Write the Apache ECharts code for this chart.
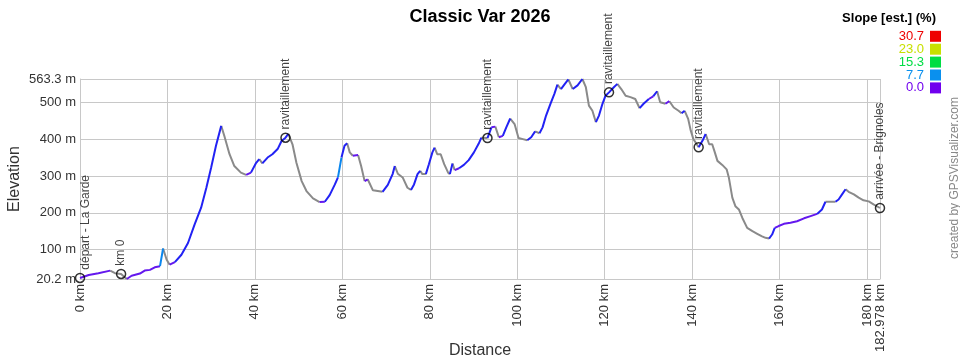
<!DOCTYPE html>
<html>
<head>
<meta charset="utf-8">
<script src="https://cdn.jsdelivr.net/npm/echarts@6/dist/echarts.min.js"></script>
<style>
html,body{margin:0;padding:0;background:#fff;}
#chart{width:960px;height:360px;}
</style>
</head>
<body>
<div id="chart"></div>
<script>
// ---- data ----
const distanceKm = [0,2,4.2,6.9,8,9.4,10.7,11.8,13.7,14.8,16,17.1,18.3,19.0,19.8,20.5,21.7,23.2,24.7,26.2,27.7,28.9,30,31.1,32.3,33,34.2,35.3,36.8,38,39.1,40.2,41,41.7,42.9,44,45.2,46.1,47.0,47.65,48.6,49.5,50.7,51.8,53.3,54.8,56,57.1,58.3,59,59.8,60.5,61.1,61.7,62.4,63.6,64.3,65.1,65.8,67,68.1,69.2,70.4,71.5,72,72.7,73.8,74.9,75.7,76.4,77.2,77.8,78.3,79.1,79.8,80.6,81.1,81.7,82.5,83.3,84.2,84.6,85.2,85.7,86.7,87.8,88.9,90.1,91.2,91.8,93.2,94.1,95,95.8,96.7,97.5,98.4,99.4,100.3,101.3,102.3,103.2,104.1,105.1,105.8,106.6,107.6,108.5,109.2,110,110.9,111.7,112.7,113.8,114.9,115.7,116.4,117.2,118,118.7,119.5,120.2,121.0,122.1,122.9,123.8,124.8,125.9,127,128,128.9,130.1,131.1,132,132.7,133.9,134.8,135.8,136.9,137.6,138.3,139.1,139.7,140.3,140.8,141.5,142.4,143.1,143.9,144.6,145.2,145.8,146.9,147.9,148.4,149.2,149.9,150.7,151.5,152.6,153.8,154.9,156,156.8,157.6,158.3,158.9,159.8,161,162.5,164,165.6,167.1,168.6,169.7,170.5,171.6,172.8,173.5,174.3,175.1,175.8,177,178.1,179.2,180.4,181.5,182.978];
const elevationM = [23,31,36,43,36,34,20.2,29,35,43,45,52,55,103,73,59,66,86,118,168,214,268,323,382,436,409,359,327,309,303,309,334,346,334,350,359,373,395,404,414,386,336,286,259,239,229,230,248,277,296,350,382,389,364,355,357,327,286,291,261,259,257,276,305,327,306,296,268,262,277,305,314,305,305,332,364,377,359,359,332,309,305,334,316,321,330,343,364,388,404,403,432,434,405,409,432,456,441,403,400,397,405,421,416,432,464,496,523,548,536,550,562,536,546,563.3,541,491,477,446,464,496,518,527,541,550,536,518,514,509,484,496,509,516,530,500,496,503,486,477,470,477,455,423,400,391,378,396,414,386,386,364,341,330,318,296,241,218,209,186,159,150,143,136,132,130,141,159,164,170,173,177,185,191,197,209,230,230,230,236,250,264,257,250,241,234,231,223,213];

const markerKm = [0, 9.4, 47.0, 93.2, 121.0, 141.5, 182.978];
const markerElev = [23, 34, 404, 403, 527, 378, 213];
const markerLabels = ['départ - La Garde','km 0','ravitaillement','ravitaillement','ravitaillement','ravitaillement','arrivée - Brignoles'];

const slopeLegendValues = ['30.7','23.0','15.3','7.7','0.0'];
const chartTitle = 'Classic Var 2026';

// ---- styling ----
const FONT = '"Liberation Sans", Arial, sans-serif';
const legendColors = ['#ee0000','#c8e000','#00dd44','#0a90ee','#7000ee'];
// slope classes (upper bound in %, colour)
const slopeClasses = [
  {max: 0,   color: '#8a8a8a'},
  {max: 0.8, color: '#6418ee'},
  {max: 6,   color: '#2222f4'},
  {max: 10,  color: '#0a86ee'},
  {max: 13,  color: '#00c4dc'},
  {max: 19,  color: '#00dd44'},
  {max: 27,  color: '#c8e000'},
  {max: Infinity, color: '#ee0000'}
];

function classOf(slope){
  for (let i=0;i<slopeClasses.length;i++) if (slope <= slopeClasses[i].max) return i;
  return slopeClasses.length-1;
}

// build per-class line data with breaks
const classData = slopeClasses.map(()=>[]);
const lastIdx = slopeClasses.map(()=>-2);
for (let i=0;i<distanceKm.length-1;i++){
  const dx = (distanceKm[i+1]-distanceKm[i])*1000;
  const slope = (elevationM[i+1]-elevationM[i])/dx*100;
  const c = classOf(slope);
  const arr = classData[c];
  if (lastIdx[c] !== i){
    if (arr.length) arr.push([distanceKm[i],'-']);
    arr.push([distanceKm[i], elevationM[i]]);
  }
  arr.push([distanceKm[i+1], elevationM[i+1]]);
  lastIdx[c] = i+1;
}

const lineSeries = slopeClasses.map((cls, k)=>({
  type:'line',
  data: classData[k],
  showSymbol:false,
  symbol:'none',
  connectNulls:false,
  lineStyle:{color: cls.color, width:2},
  silent:true,
  animation:false,
  z: 2 + k*0.01
}));

const markerData = markerKm.map((km,i)=>{
  const item = {value:[km, markerElev[i]], name: markerLabels[i]};
  if (i===0) item.label = {offset:[0,6]};
  return item;
});

const chart = echarts.init(document.getElementById('chart'), null, {renderer:'canvas'});

const graphics = [
  {type:'text', right: 24, top: 12, style:{text:'Slope [est.] (%)', font:'bold 13px '+FONT, fill:'#000'}}
];
slopeLegendValues.forEach((v,i)=>{
  const cy = 36.3 + i*12.9;
  graphics.push({type:'text', x: 924, y: cy, style:{text:v, font:'13px '+FONT, fill: legendColors[i], align:'right', verticalAlign:'middle'}});
  graphics.push({type:'rect', shape:{x:930, y:cy-5.5, width:11, height:11}, style:{fill: legendColors[i]}});
});
graphics.push({type:'text', x: 955, y: 178, rotation: Math.PI/2,
  style:{text:'created by GPSVisualizer.com', font:'12px '+FONT, fill:'#888', align:'center', verticalAlign:'middle'}});

chart.setOption({
  animation:false,
  backgroundColor:'#fff',
  title:{text: chartTitle, left:'center', top:3, textStyle:{fontFamily:FONT, fontSize:18, fontWeight:'bold', color:'#000'}},
  grid:{left:80, right:80, top:79, bottom:81, containLabel:false, outerBoundsMode:'none'},
  xAxis:{
    type:'value', min:0, max:182.978, interval:20,
    name:'Distance', nameLocation:'middle', nameGap:64, nameMoveOverlap:false,
    nameTextStyle:{fontFamily:FONT, fontSize:16, color:'#333'},
    axisLine:{show:true, lineStyle:{color:'#c8c8c8'}},
    axisTick:{show:false},
    axisLabel:{rotate:90, margin:5, fontFamily:FONT, fontSize:13, color:'#333',
      formatter: v => v + ' km', showMaxLabel:true, showMinLabel:true},
    splitLine:{show:true, lineStyle:{color:'#c8c8c8', width:1}}
  },
  yAxis:{
    type:'value', min:20.2, max:563.3,
    name:'Elevation', nameLocation:'middle', nameGap:57, nameMoveOverlap:false,
    nameTextStyle:{fontFamily:FONT, fontSize:16, color:'#333'},
    axisLine:{show:true, lineStyle:{color:'#c8c8c8'}},
    axisTick:{show:false},
    axisLabel:{margin:4, fontFamily:FONT, fontSize:13, color:'#333',
      formatter: v => v + ' m', showMaxLabel:true, showMinLabel:true},
    splitLine:{show:true, lineStyle:{color:'#c8c8c8', width:1}}
  },
  graphic: graphics,
  series: lineSeries.concat([{
    type:'scatter',
    data: markerData,
    symbol:'circle', symbolSize:9,
    itemStyle:{color:'rgba(0,0,0,0)', borderColor:'#000', borderWidth:1.5},
    label:{show:true, formatter: p => p.name, rotate:90, position:'top', distance:3,
      align:'left', verticalAlign:'middle', fontFamily:FONT, fontSize:12, color:'#111'},
    z:5, silent:true
  }])
});
</script>
</body>
</html>
